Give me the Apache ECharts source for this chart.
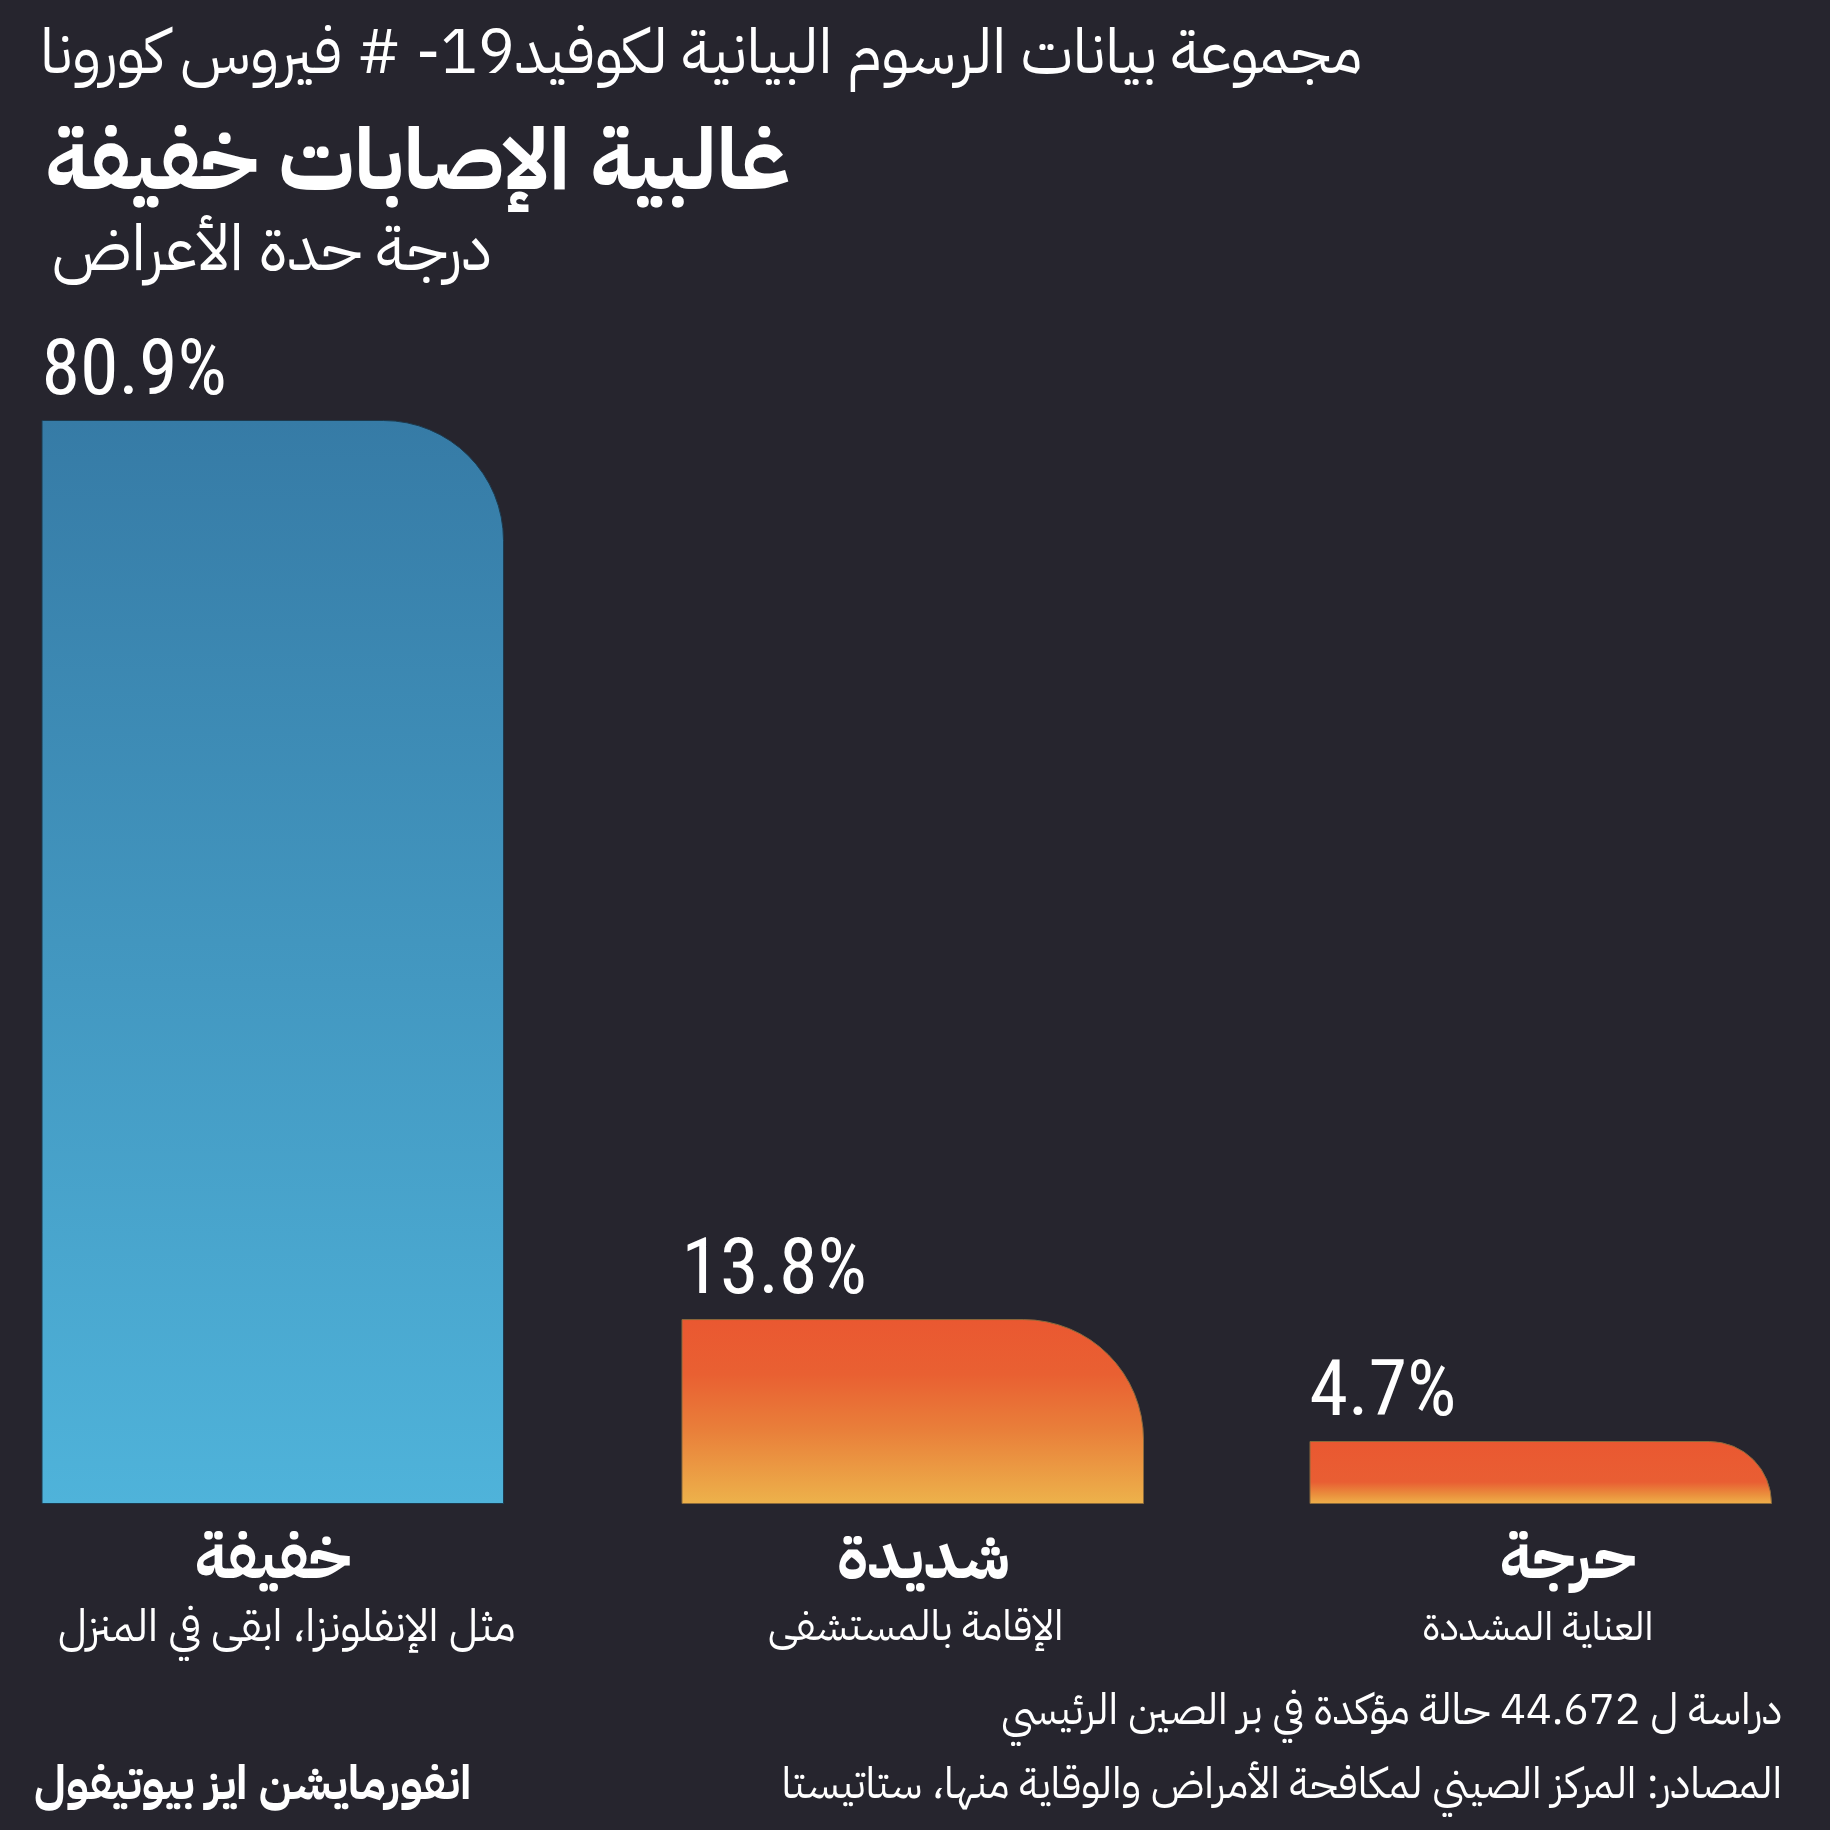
<!DOCTYPE html>
<html dir="rtl">
<head>
<meta charset="utf-8">
<style>html,body{margin:0;padding:0;background:#26252e}#main{width:1830px;height:1830px}</style>
<script src="https://cdn.jsdelivr.net/npm/echarts@6/dist/echarts.min.js"></script>
</head>
<body>
<div id="main"></div>
<script>
var categories = ['خفيفة', 'شديدة', 'حرجة'];
var subLabels = ['مثل الإنفلونزا، ابقى في المنزل', 'الإقامة بالمستشفى', 'العناية المشددة'];
var values = [80.9, 13.8, 4.7];

var arabicFont = '"IBM Plex Sans Arabic","Noto Sans Arabic",sans-serif';
var bg = '#26252e';
var gradients = [
	[{offset: 0, color: '#367ba6'}, {offset: 1, color: '#4fb3da'}],
	[{offset: 0, color: '#ea5831'}, {offset: 0.3, color: '#e96032'}, {offset: 0.6, color: '#e97f3a'}, {offset: 1, color: '#edb24b'}],
	[{offset: 0, color: '#ea5831'}, {offset: 0.65, color: '#e95e33'}, {offset: 0.85, color: '#ea8f3d'}, {offset: 1, color: '#f0b14a'}]
];
var barBorder = ['#1c3a4e', '#8a6a3c', '#8a6a3c'];
var barLeft = [41.5, 681.5, 1309.5];
var nameShift = [0, 11, 27];
var subShift = [14, 3, -3];
var subSize = [44.5, 41.8, 39.8];

function shiftPad(s) {
	return s >= 0 ? [0, 0, 0, s * 2] : [0, -s * 2, 0, 0];
}

var grids = [], xAxes = [], yAxes = [], series = [];
values.forEach(function(v, i) {
	grids.push({left: barLeft[i], width: 462.5, top: 420, height: 1084});
	xAxes.push({
		type: 'category', gridIndex: i, data: [categories[i]],
		axisLine: {show: false}, axisTick: {show: false},
		axisLabel: {
			margin: 23, interval: 0,
			formatter: function() { return '{n|' + categories[i] + '}\n{s|' + subLabels[i] + '}'; },
			rich: {
				n: {fontFamily: arabicFont, fontSize: 63, fontWeight: 'bold', color: '#fff', height: 74, padding: shiftPad(nameShift[i])},
				s: {fontFamily: arabicFont, fontSize: subSize[i], color: '#fff', height: 60, padding: shiftPad(subShift[i])}
			}
		}
	});
	yAxes.push({type: 'value', gridIndex: i, min: 0, max: 80.9, show: false});
	series.push({
		type: 'bar', xAxisIndex: i, yAxisIndex: i, data: [v], barWidth: '100%',
		itemStyle: {
			borderRadius: [0, 120, 0, 0],
			borderColor: barBorder[i], borderWidth: 1,
			color: {type: 'linear', x: 0, y: 0, x2: 0, y2: 1, colorStops: gradients[i]}
		},
		label: {
			show: true, position: 'insideTopLeft', distance: 0, offset: [0, -85],
			formatter: '{c}%', fontFamily: '"Roboto Condensed"', fontWeight: 400, fontSize: 78, color: '#fff'
		}
	});
});

var chart = echarts.init(document.getElementById('main'));
chart.setOption({
	backgroundColor: bg,
	animation: false,
	grid: grids, xAxis: xAxes, yAxis: yAxes, series: series,
	graphic: [
		{type: 'text', left: 40, top: 28, style: {text: 'مجموعة بيانات الرسوم البيانية لكوفيد19- # فيروس كورونا', fontFamily: arabicFont, fontSize: 62, fill: '#fff'}},
		{type: 'text', left: 45, top: 127, style: {text: 'غالبية الإصابات خفيفة', fontFamily: arabicFont, fontSize: 85.7, fontWeight: 'bold', fill: '#fff'}},
		{type: 'text', left: 52, top: 224, style: {text: 'درجة حدة الأعراض', fontFamily: arabicFont, fontSize: 63.7, fill: '#fff'}},
		{type: 'text', right: 48, top: 1693, style: {text: 'دراسة ل 44.672 حالة مؤكدة في بر الصين الرئيسي', fontFamily: arabicFont, fontSize: 42.8, fill: '#fff'}},
		{type: 'text', right: 48, top: 1767, style: {text: 'المصادر: المركز الصيني لمكافحة الأمراض والوقاية منها، ستاتيستا', fontFamily: arabicFont, fontSize: 42.7, fill: '#fff'}},
		{type: 'text', left: 34, top: 1765, style: {text: 'انفورمايشن ايز بيوتيفول', fontFamily: arabicFont, fontSize: 47.4, fontWeight: 'bold', fill: '#fff'}}
	]
});
</script>
</body>
</html>
